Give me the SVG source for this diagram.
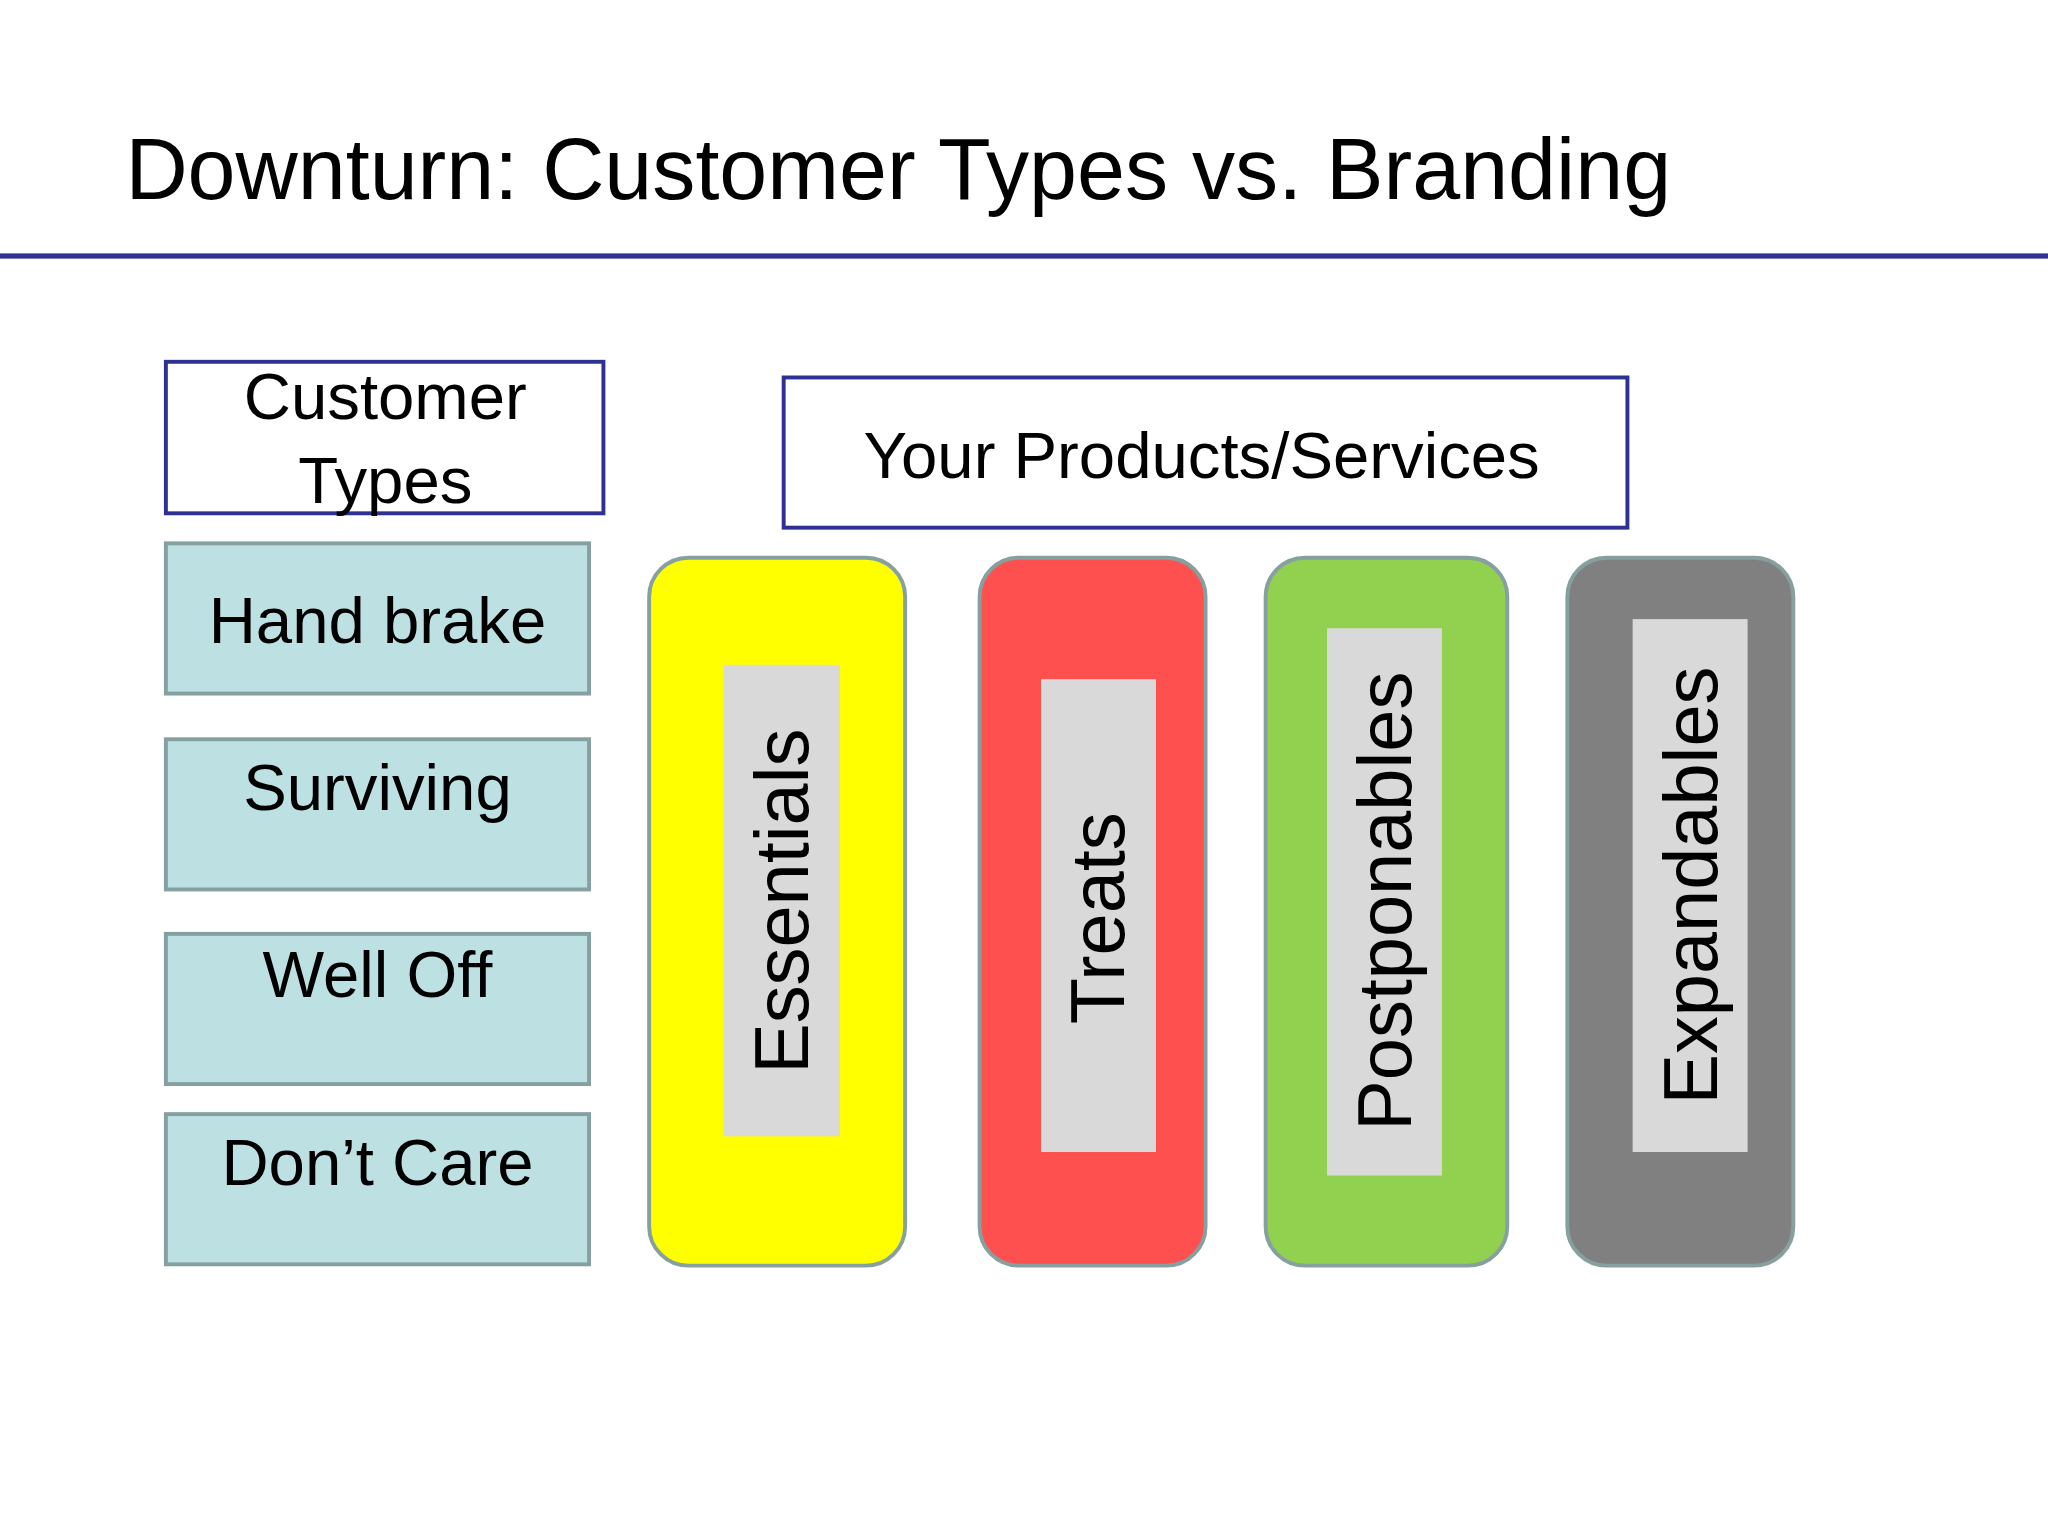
<svg xmlns="http://www.w3.org/2000/svg" width="2048" height="1536" viewBox="0 0 2048 1536">
<style>
text{font-family:"Liberation Sans",Arial,sans-serif;fill:#000}
.hdr{fill:#fff;stroke:#2E3192;stroke-width:3}
.ct{fill:#BDE0E3;stroke:#86A0A0;stroke-width:3}
.col{stroke:#86A0A0;stroke-width:3}
.in{fill:#D9D9D9}
.t50{font-size:50px;text-anchor:middle}
.rot{font-size:58px;text-anchor:middle;dominant-baseline:central}
</style>
<rect width="2048" height="1536" fill="#fff"/>
<g transform="scale(1.30612)">
<g id="title"><text x="96" y="152" font-size="66">Downturn: Customer Types  vs. Branding</text>
<rect x="0" y="194" width="1568" height="4" fill="#2E3192"/></g>
<g id="customer-types"><rect class="hdr" x="127" y="277" width="335" height="116"/>
<text class="t50" x="295" y="321">Customer</text><text class="t50" x="295" y="385">Types</text></g>
<g id="hand-brake"><rect class="ct" x="127" y="416" width="324" height="115"/><text class="t50" x="289" y="492">Hand brake</text></g>
<g id="surviving"><rect class="ct" x="127" y="566" width="324" height="115"/><text class="t50" x="289" y="620">Surviving</text></g>
<g id="well-off"><rect class="ct" x="127" y="715" width="324" height="115"/><text class="t50" x="289" y="763">Well Off</text></g>
<g id="dont-care"><rect class="ct" x="127" y="853" width="324" height="115"/><text class="t50" x="289" y="907">Don’t Care</text></g>
<g id="products"><rect class="hdr" x="600" y="289" width="646" height="115"/><text class="t50" x="920" y="366">Your Products/Services</text></g>
<g id="essentials"><rect class="col" fill="#FFFF00" x="497" y="427" width="196" height="542" rx="30"/>
<rect class="in" x="554" y="509" width="89" height="361"/>
<text class="rot" transform="translate(598,690) rotate(-90)">Essentials</text></g>
<g id="treats"><rect class="col" fill="#FF5050" x="750" y="427" width="173" height="542" rx="30"/>
<rect class="in" x="797" y="520" width="88" height="362"/>
<text class="rot" transform="translate(840,703) rotate(-90)">Treats</text></g>
<g id="postponables"><rect class="col" fill="#92D050" x="969" y="427" width="185" height="542" rx="30"/>
<rect class="in" x="1016" y="481" width="88" height="419"/>
<text class="rot" transform="translate(1060,690) rotate(-90)">Postponables</text></g>
<g id="expandables"><rect class="col" fill="#808080" x="1200" y="427" width="173" height="542" rx="30"/>
<rect class="in" x="1250" y="474" width="88" height="408"/>
<text class="rot" transform="translate(1294,678) rotate(-90)">Expandables</text></g>
<g id="connectors"/>
</g>
</svg>
